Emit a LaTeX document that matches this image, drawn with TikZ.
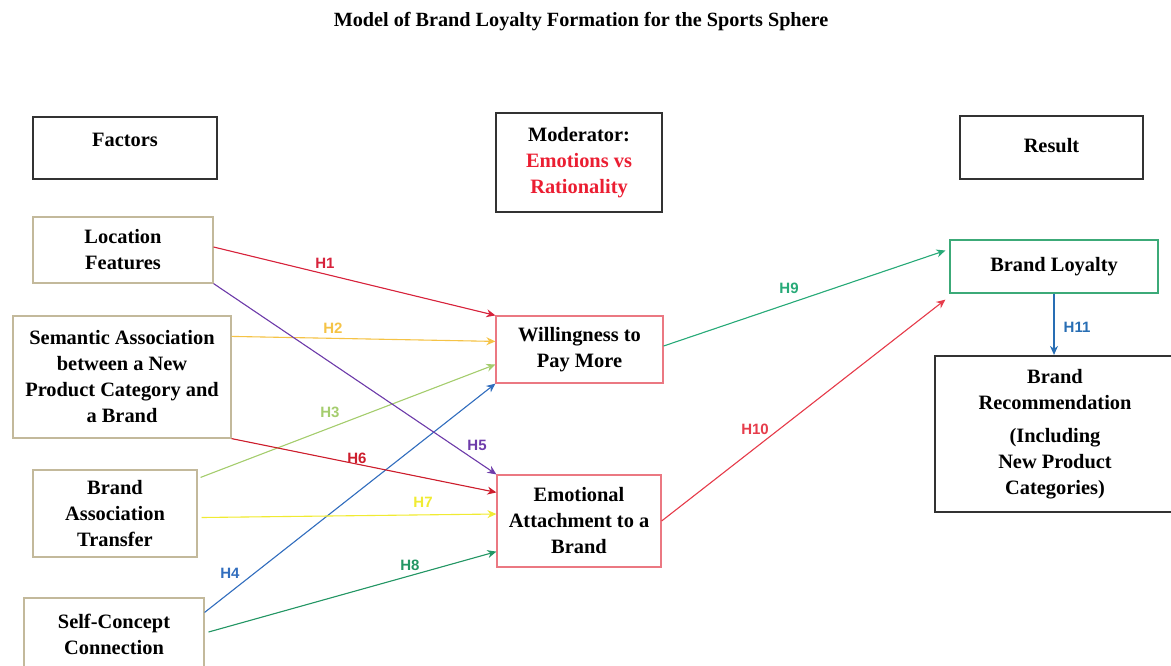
\documentclass[tikz,border=0pt]{standalone}
\usepackage{fontspec}
\setmainfont{Liberation Serif}
\newfontfamily\lblfont{Liberation Sans}
\usetikzlibrary{arrows.meta}
\definecolor{hdrc}{RGB}{50,50,50}
\definecolor{facc}{RGB}{195,185,155}
\definecolor{midc}{RGB}{235,120,130}
\definecolor{resc}{RGB}{60,170,120}
\definecolor{modred}{RGB}{235,30,50}
\definecolor{cA}{RGB}{215,35,60}
\definecolor{cB}{RGB}{245,195,70}
\definecolor{cC}{RGB}{165,205,110}
\definecolor{cD}{RGB}{50,110,190}
\definecolor{cE}{RGB}{110,60,170}
\definecolor{cF}{RGB}{205,30,45}
\definecolor{cG}{RGB}{240,235,50}
\definecolor{cH}{RGB}{35,150,100}
\definecolor{cI}{RGB}{40,170,120}
\definecolor{cJ}{RGB}{230,60,75}
\definecolor{cK}{RGB}{40,110,180}
\tikzset{
  box/.style={draw, line width=0.6pt, align=center, inner sep=0pt,
    font=\bfseries\fontsize{10.2}{13}\selectfont},
  hdr/.style={box, draw=hdrc, line width=1.1pt},
  fac/.style={box, draw=facc},
  mid/.style={box, draw=midc},
  res/.style={box, draw=resc},
  conn/.style={line width=0.55pt, -{Stealth[length=4.5pt,width=4pt]}},
  lbl/.style={font=\lblfont\bfseries\fontsize{7.5}{8}\selectfont, inner sep=0pt}
}
\begin{document}
\begin{tikzpicture}[x=0.5pt,y=-0.5pt]
\useasboundingbox (0,0) rectangle (1171,665);
\clip (0,0) rectangle (1171,665);
\node[font=\bfseries\fontsize{10.1}{12}\selectfont] (title) at (581,22) {Model of Brand Loyalty Formation for the Sports Sphere};
% header boxes
\node[hdr, minimum width=92pt, minimum height=31pt, text depth=8pt] (factors) at (125,148) {Factors};
\node[hdr, minimum width=83pt, minimum height=49.5pt] (moder) at (579,162.5) {Moderator:\\\textcolor{modred}{Emotions vs}\\\textcolor{modred}{Rationality}};
\node[hdr, minimum width=91.5pt, minimum height=31.5pt, text depth=2.5pt] (result) at (1051.5,147.5) {Result};
% factor boxes
\node[fac, minimum width=90pt, minimum height=33pt] (loc) at (123,250) {Location\\Features};
\node[fac, minimum width=109pt, minimum height=61pt] (sem) at (122,377) {Semantic Association\\between a New\\Product Category and\\a Brand};
\node[fac, minimum width=82pt, minimum height=43.5pt] (bat) at (115,513.5) {Brand\\Association\\Transfer};
\node[fac, minimum width=90pt, minimum height=36pt] (scc) at (114,634) {Self-Concept\\Connection};
% mediators
\node[mid, minimum width=83.5pt, minimum height=33.5pt] (wtp) at (579.5,349.5) {Willingness to\\Pay More};
\node[mid, minimum width=82pt, minimum height=46pt] (ea) at (579,521) {Emotional\\Attachment to a\\Brand};
% results
\node[res, minimum width=104pt, minimum height=26.5pt] (bl) at (1054,266.5) {Brand Loyalty};
\node[hdr, minimum width=120pt, minimum height=78pt] (br) at (1055,434) {Brand\\Recommendation\\[3.5pt](Including\\New Product\\Categories)};
% connectors
\draw[conn, draw=cA, fill=cA] ([yshift=1.5pt]loc.east) -- (wtp.north west);
\draw[conn, draw=cB, fill=cB] ([yshift=-10.5pt]sem.north east) -- ([yshift=-13pt]wtp.north west);
\draw[conn, draw=cC, fill=cC] ([xshift=1.5pt,yshift=-4pt]bat.north east) -- ([yshift=-7.5pt]wtp.west);
\draw[conn, draw=cD, fill=cD] ([yshift=-7.5pt]scc.north east) -- (wtp.south west);
\draw[conn, draw=cE, fill=cE] (loc.south east) -- (ea.north west);
\draw[conn, draw=cF, fill=cF] (sem.south east) -- ([yshift=-9pt]ea.north west);
\draw[conn, draw=cG, fill=cG] ([xshift=2pt,yshift=-2pt]bat.east) -- ([yshift=3.5pt]ea.west);
\draw[conn, draw=cH, fill=cH] ([xshift=2pt,yshift=1pt]scc.east) -- ([yshift=8pt]ea.south west);
\draw[conn, draw=cI, fill=cI] ([yshift=1.75pt]wtp.east) -- ([xshift=-2pt,yshift=8pt]bl.west);
\draw[conn, draw=cJ, fill=cJ] (ea.east) -- ([xshift=-2pt,yshift=-3pt]bl.south west);
\draw[conn, draw=cK, fill=cK] (bl.south) -- (bl.south |- br.north);
% labels
\node[lbl, text=cA] (l1) at (325,263) {H1};
\node[lbl, text=cB] (l2) at (333,328) {H2};
\node[lbl, text=cC] (l3) at (330,412) {H3};
\node[lbl, text=cD] (l4) at (230,573) {H4};
\node[lbl, text=cE] (l5) at (477,445) {H5};
\node[lbl, text=cF] (l6) at (357,458) {H6};
\node[lbl, text=cG] (l7) at (423,502) {H7};
\node[lbl, text=cH] (l8) at (410,565) {H8};
\node[lbl, text=cI] (l9) at (789,288) {H9};
\node[lbl, text=cJ] (l10) at (755,429) {H10};
\node[lbl, text=cK] (l11) at (1077,327) {H11};
\end{tikzpicture}
\end{document}
